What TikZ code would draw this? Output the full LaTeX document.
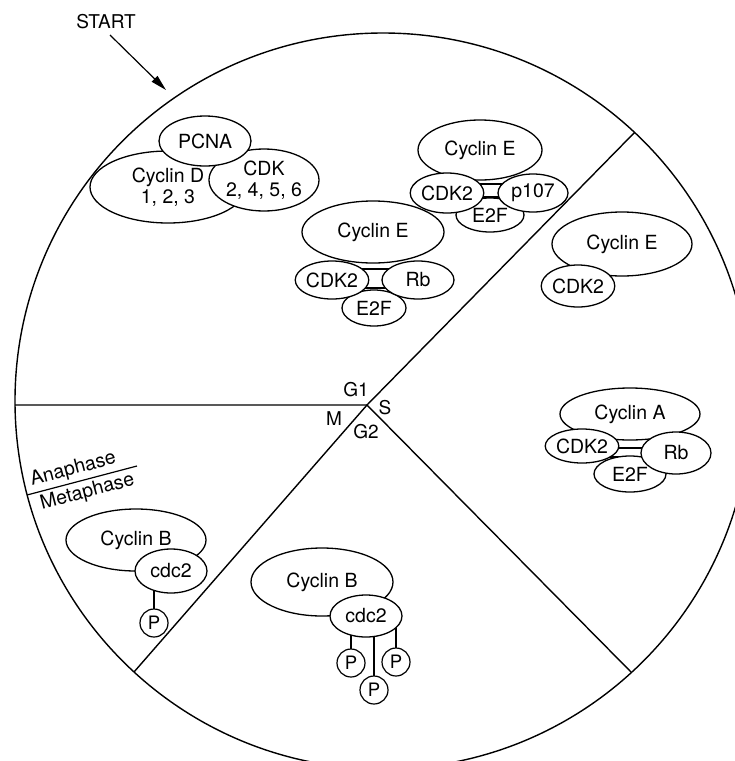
\documentclass[tikz,border=0pt]{standalone}
\usepackage{fontspec}
\setmainfont{TeX Gyre Heros}
\usetikzlibrary{shapes.geometric,arrows.meta}
\pgfdeclarelayer{bg}
\pgfsetlayers{bg,main}
\begin{document}
\begin{tikzpicture}[x=1pt,y=-1pt,
  every node/.style={font=\fontsize{19.5}{21.5}\selectfont},
  lw/.style={line width=1.4pt},
  thinl/.style={line width=1.2pt},
  blob/.style={ellipse, draw, fill=white, line width=1.3pt, inner sep=0pt, align=center},
  pcirc/.style={circle, draw, fill=white, line width=1.2pt, inner sep=0pt, minimum size=28pt, font=\fontsize{18.5}{20}\selectfont},
  lbl/.style={inner sep=0pt, font=\fontsize{19}{20}\selectfont}]
\useasboundingbox (0,0) rectangle (735,761);

% ---- phase labels and START
\node[lbl] (start) at (106,22) {START};
\node[lbl] (g1) at (356,390) {G1};
\node[lbl] (m) at (334,419) {M};
\node[lbl] (s) at (385,408) {S};
\node[lbl] (g2) at (366,432) {G2};

% ---- G1 cluster: Cyclin D / CDK / PCNA
\node[blob, minimum width=156pt, minimum height=72pt] (cycD) at (168,187) {Cyclin D\\1, 2, 3};
\node[blob, minimum width=110pt, minimum height=62pt] (cdk) at (264,180) {CDK\\2, 4, 5, 6};
\node[blob, minimum width=92pt, minimum height=50pt] (pcna) at (205,141) {PCNA};

% ---- top Cyclin E / CDK2 / p107 / E2F
\node[blob, minimum width=124pt, minimum height=60pt] (cycE1) at (480,150) {Cyclin E};
\node[blob, minimum width=68pt, minimum height=34pt] (e2fA) at (490,215) {E2F};
\node[blob, minimum width=72pt, minimum height=40pt] (cdk2A) at (447,193) {CDK2};
\node[blob, minimum width=70pt, minimum height=38pt] (p107) at (533,193) {p107};

% ---- middle Cyclin E / CDK2 / Rb / E2F
\node[blob, minimum width=142pt, minimum height=62pt] (cycE2) at (373,232) {Cyclin E};
\node[blob, minimum width=64pt, minimum height=36pt] (e2fB) at (374,308) {E2F};
\node[blob, minimum width=72pt, minimum height=38pt] (cdk2B) at (332,280) {CDK2};
\node[blob, minimum width=72pt, minimum height=38pt] (rbB) at (418,280) {Rb};

% ---- S phase Cyclin E / CDK2
\node[blob, minimum width=140pt, minimum height=64pt] (cycE3) at (622,244) {Cyclin E};
\node[blob, minimum width=70pt, minimum height=42pt] (cdk2C) at (578,286) {CDK2};

% ---- Cyclin A cluster
\node[blob, minimum width=140pt, minimum height=52pt] (cycA) at (630,414) {Cyclin A};
\node[blob, minimum width=72pt, minimum height=36pt] (e2fC) at (630,474) {E2F};
\node[blob, minimum width=70pt, minimum height=34pt] (cdk2D) at (582,446) {CDK2};
\node[blob, minimum width=70pt, minimum height=42pt] (rbC) at (676,453) {Rb};

% ---- M phase Cyclin B / cdc2 / P
\node[blob, minimum width=140pt, minimum height=62pt] (cycB1) at (136,540) {Cyclin B};
\node[blob, minimum width=72pt, minimum height=44pt] (cdc2A) at (171,571) {cdc2};
\node[pcirc] (pA) at (154,623) {P};

% ---- G2 Cyclin B / cdc2 / P P P
\node[blob, minimum width=142pt, minimum height=68pt] (cycB2) at (322,582) {Cyclin B};
\node[blob, minimum width=72pt, minimum height=42pt] (cdc2B) at (366,616) {cdc2};
\node[pcirc] (pL) at (351,663) {P};
\node[pcirc] (pR) at (396,662) {P};
\node[pcirc] (pB) at (374,690) {P};

\begin{pgfonlayer}{bg}
  \begin{scope}
  \clip (0,0) rectangle (735,761);
  \draw[lw] (383,401) circle[radius=368];
  \end{scope}
  \coordinate (J) at (367,405);
  \coordinate (eL) at (15,405);
  \coordinate (eUR) at (634.6,132.4);
  \coordinate (eLR) at (631,672);
  \coordinate (eLL) at (134,672);
  \draw[lw] (eL) -- (J) -- (eUR);
  \draw[lw] (eLL) -- (J) -- (eLR);
  % double bonds
  \draw[thinl] ([yshift=9pt]cdk2A.center) -- ([yshift=9pt]p107.center);
  \draw[thinl] ([yshift=-4pt]cdk2A.center) -- ([yshift=-4pt]p107.center);
  \draw[thinl] ([yshift=11pt]cdk2B.center) -- ([yshift=11pt]rbB.center);
  \draw[thinl] ([yshift=-8pt]cdk2B.center) -- ([yshift=-8pt]rbB.center);
  \draw[thinl] ([yshift=-2pt]cdk2D.center) -- ([yshift=5pt]rbC.center);
  \draw[thinl] ([yshift=-11pt]cdk2D.center) -- ([yshift=-4pt]rbC.center);
  % phosphate sticks
  \draw[thinl] (pA.center) -- (pA.center |- cdc2A.center);
  \draw[thinl] (pL.center) -- (pL.center |- cdc2B.center);
  \draw[thinl] (pR.center) -- (pR.center |- cdc2B.center);
  \draw[thinl] (pB.center) -- (pB.center |- cdc2B.center);
\end{pgfonlayer}

% ---- START arrow
\coordinate (a0) at (110,35);
\coordinate (tip) at (166,90);
\draw[thinl, -{Triangle[length=16pt,width=8pt]}] (a0) -- (tip);

% ---- Anaphase / Metaphase
\coordinate (an1) at (27,495);
\coordinate (an2) at (137,466);
\draw[thinl] (an1) -- node[sloped, above, pos=0.45, inner sep=3pt] (ana) {Anaphase}
                      node[sloped, below, pos=0.52, inner sep=3pt] (meta) {Metaphase} (an2);
\end{tikzpicture}
\end{document}
